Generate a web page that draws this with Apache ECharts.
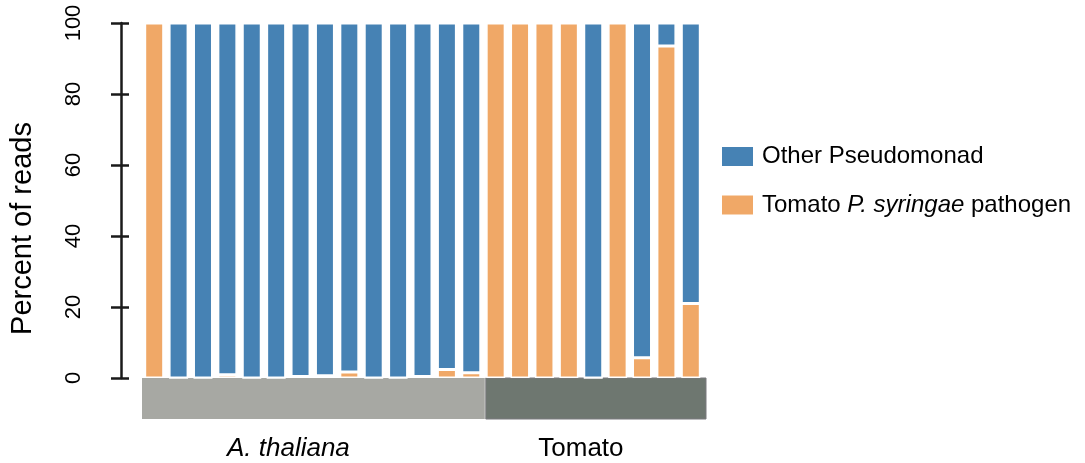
<!DOCTYPE html>
<html>
<head>
<meta charset="utf-8">
<script src="https://cdn.jsdelivr.net/npm/echarts@6/dist/echarts.min.js"></script>
<style>
  html, body { margin: 0; padding: 0; background: #fff; }
  #chart { width: 1085px; height: 463px; }
</style>
</head>
<body>
<div id="chart"></div>
<script>
// Samples, in plot order (14 A. thaliana, then 9 tomato)
const samples = ['1','2','3','4','5','6','7','8','9','10','11','12','13','14',
                 '15','16','17','18','19','20','21','22','23'];

// Percent of Pseudomonas reads assigned to the tomato P. syringae pathogen
const pathogen = [100, 0, 0, 0.9, 0, 0, 0.4, 0.6, 1.7, 0, 0, 0.4, 2.4, 1.5,
                  100, 100, 100, 100, 0, 100, 5.7, 93.5, 21];

// Percent of reads from other Pseudomonads
const otherPseudo = [0, 100, 100, 99.1, 100, 100, 99.6, 99.4, 98.3, 100, 100, 99.6, 97.6, 98.5,
                     0, 0, 0, 0, 100, 0, 94.3, 6.5, 79];

// Host groups and how many samples each spans
const hosts = ['A. thaliana', 'Tomato'];
const hostSizes = [14, 9];

// band colours / label styling for each host
const hostColors = ['#a7a8a3', '#6e7770'];
const hostItalic = [true, false];
const hostLabelShift = [-25, -15];

const yTicks = { min: 0, max: 100, interval: 20 };

const FONT = '"Liberation Sans", Arial, Helvetica, sans-serif';
const BLUE = '#4682b4';
const ORANGE = '#f0a867';

// host band ranges on a 0..N sample scale
const hostRanges = [];
let start = 0;
hostSizes.forEach((n, i) => { hostRanges.push([start, start + n, i]); start += n; });

const chart = echarts.init(document.getElementById('chart'), null, { renderer: 'canvas' });

const legendRich = {
  s: { width: 4 },
  n: { fontSize: 24, fontFamily: FONT, color: '#000' },
  i: { fontSize: 24, fontFamily: FONT, color: '#000', fontStyle: 'italic' }
};

chart.setOption({
  animation: false,
  backgroundColor: '#fff',
  textStyle: { fontFamily: FONT },
  grid: [
    { left: 142, width: 561, top: 23, height: 355 },
    { left: 142, width: 564, top: 378, height: 41 }
  ],
  legend: {
    orient: 'vertical',
    left: 722,
    top: 143.5,
    padding: 0,
    itemWidth: 31,
    itemHeight: 19,
    itemGap: 22.5,
    data: ['Other Pseudomonad', 'Tomato P. syringae pathogen'],
    icon: 'rect',
    textStyle: { fontFamily: FONT, fontSize: 24, color: '#000', lineHeight: 26, rich: legendRich },
    formatter: function (name) {
      if (name === 'Tomato P. syringae pathogen') {
        return '{s|}{n|Tomato }{i|P. syringae}{n| pathogen}';
      }
      return '{s|}{n|' + name + '}';
    },
    itemStyle: { borderWidth: 0 }
  },
  xAxis: [
    { type: 'category', gridIndex: 0, data: samples, show: false },
    { type: 'value', gridIndex: 1, min: 0, max: samples.length, show: false }
  ],
  yAxis: [
    {
      type: 'value', gridIndex: 0,
      min: yTicks.min, max: yTicks.max, interval: yTicks.interval,
      offset: 21,
      axisLine: { show: true, lineStyle: { color: '#1a1a1a', width: 2.5 } },
      axisTick: { show: true, length: 10, lineStyle: { color: '#1a1a1a', width: 2.5 } },
      axisLabel: { rotate: 90, margin: 36, fontSize: 22, color: '#000', fontFamily: FONT },
      splitLine: { show: false },
      name: 'Percent of reads',
      nameLocation: 'middle',
      nameGap: 84,
      nameTextStyle: { fontSize: 29, color: '#000', fontFamily: FONT, padding: [0, 56, 0, 0] }
    },
    {
      // inward half of the crossing ticks
      type: 'value', gridIndex: 0, position: 'left',
      min: yTicks.min, max: yTicks.max, interval: yTicks.interval,
      offset: 21,
      axisLine: { show: false },
      axisTick: { show: true, inside: true, length: 8, lineStyle: { color: '#1a1a1a', width: 2.5 } },
      axisLabel: { show: false },
      splitLine: { show: false }
    },
    { type: 'value', gridIndex: 1, min: 0, max: 1, show: false }
  ],
  series: [
    {
      name: 'Tomato P. syringae pathogen',
      type: 'bar', stack: 'reads',
      xAxisIndex: 0, yAxisIndex: 0,
      barWidth: 19,
      data: pathogen,
      itemStyle: { color: ORANGE, borderColor: '#fff', borderWidth: 1.5 }
    },
    {
      name: 'Other Pseudomonad',
      type: 'bar', stack: 'reads',
      xAxisIndex: 0, yAxisIndex: 0,
      barWidth: 19,
      data: otherPseudo,
      itemStyle: { color: BLUE, borderColor: '#fff', borderWidth: 1.5 }
    },
    {
      // host bands beneath the bars, with their labels
      type: 'custom',
      xAxisIndex: 1, yAxisIndex: 2,
      data: hostRanges,
      silent: true,
      renderItem: function (params, api) {
        const i = api.value(2);
        const p0 = api.coord([api.value(0), 0]);
        const p1 = api.coord([api.value(1), 1]);
        const x0 = p0[0] + (i > 0 ? 0.5 : 0);
        const x1 = p1[0] - (i < hostRanges.length - 1 ? 0.5 : 0);
        const isLast = i === hostRanges.length - 1;
        return {
          type: 'group',
          children: [
            {
              type: 'rect',
              shape: { x: x0, y: p1[1], width: x1 - x0, height: p0[1] - p1[1] },
              style: isLast
                ? { fill: hostColors[i], stroke: '#7a7a7e', lineWidth: 1 }
                : { fill: hostColors[i] }
            },
            {
              type: 'text',
              x: (x0 + x1) / 2 + hostLabelShift[i],
              y: p0[1] + 30,
              style: {
                text: hosts[i],
                fill: '#000',
                font: (hostItalic[i] ? 'italic ' : '') + '26px ' + FONT,
                align: 'center',
                verticalAlign: 'middle'
              }
            }
          ]
        };
      }
    }
  ]
});
</script>
</body>
</html>
